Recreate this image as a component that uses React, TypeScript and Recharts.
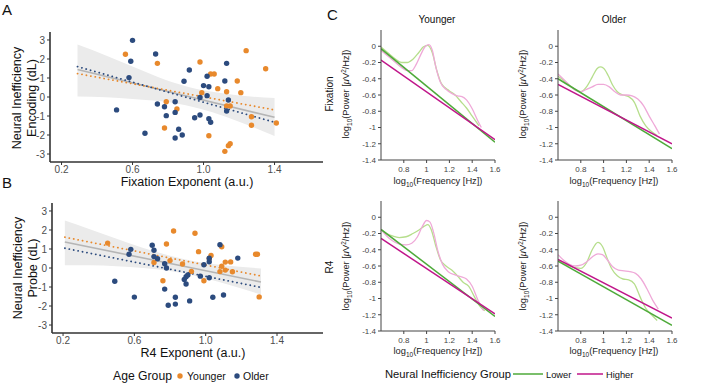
import React from 'react';
import { ComposedChart, LineChart, Line, Scatter, Area, XAxis, YAxis } from 'recharts';

const ORANGE = '#E8892C';
const BLUE = '#2C4B7E';
const GREEN = '#4EAA3A';
const LIGHT_GREEN = '#B6DE8C';
const MAGENTA = '#C0168A';
const PINK = '#EFA9D8';
const FONT = 'Liberation Sans, Arial, Helvetica, sans-serif';

// ---- panel A: fixation exponent vs encoding dL ----
const youngerA: [number, number][] = [
  [0.56, 2.25], [0.74, 1.77], [0.79, -0.25], [0.85, -0.63], [0.78, -1.63], [0.98, 1.84],
  [0.99, 0.23], [1.04, 1.21], [1.06, 1.21], [1.08, 0.44], [1.03, -2.04], [1.13, 0.28],
  [1.13, -0.47], [1.15, -0.47], [1.19, 0.84], [1.21, 0.23], [1.24, 2.44], [1.27, -1.04],
  [1.27, -1.49], [1.12, -2.86], [1.14, -2.56], [1.15, -2.46], [1.35, 1.49], [1.41, -1.37],
];
const olderA: [number, number][] = [
  [0.6, 2.98], [0.59, 1.88], [0.58, 1.02], [0.51, -0.68], [0.73, 2.26], [0.67, -1.91],
  [0.74, -0.37], [0.78, -0.51], [0.79, -0.98], [0.84, -0.25], [0.84, -0.81], [0.86, -1.7],
  [0.88, -2.0], [0.84, -2.16], [0.89, 0.83], [0.92, 1.42], [0.95, -1.09], [0.98, -0.95],
  [0.98, -0.03], [1.0, 0.6], [1.02, 0.07], [1.02, 1.09], [1.03, 0.54], [1.03, -1.14],
  [1.04, -1.33], [1.12, 0.84], [1.13, 1.77], [1.14, -0.16], [1.13, -0.74],
];
const fitA: [number, number][] = [[0.29, 1.45], [1.4, -1.07]];
const fitYoungerA: [number, number][] = [[0.29, 1.23], [1.4, -0.68]];
const fitOlderA: [number, number][] = [[0.29, 1.6], [1.4, -1.33]];
const bandXA = [0.29, 0.45, 0.6, 0.75, 0.9, 1.05, 1.2, 1.4];
const bandLowA = [0.02, -0.01, -0.1, -0.21, -0.43, -0.8, -1.3, -2.05];
const bandHighA = [2.76, 2.19, 1.6, 1.03, 0.57, 0.27, 0.08, -0.05];

// ---- panel B: R4 exponent vs probe dL ----
const youngerB: [number, number][] = [
  [0.45, 1.31], [0.71, 0.29], [0.78, 1.26], [0.82, 1.95], [0.8, 0.39], [0.76, -0.67],
  [0.87, 0.21], [0.92, -0.18], [0.94, 1.83], [0.96, 0.86], [0.99, -0.67], [1.02, 0.5],
  [1.03, 0.66], [1.08, -0.19], [1.09, 0.09], [1.09, 1.12], [1.11, 0.31], [1.11, -0.11],
  [1.14, 0.32], [1.15, -0.2], [1.28, 0.72], [1.29, 0.72], [1.3, -1.52],
];
const olderB: [number, number][] = [
  [0.49, -0.7], [0.6, -1.53], [0.57, 0.72], [0.58, 0.98], [0.7, 1.2], [0.71, 0.93],
  [0.71, 0.6], [0.73, 0.49], [0.77, 0.22], [0.78, 0.0], [0.77, -1.11], [0.83, -1.54],
  [0.79, -1.96], [0.83, -1.9], [0.88, -0.6], [0.89, -0.46], [0.9, -0.37], [0.89, -0.84],
  [0.91, -1.73], [0.97, -0.43], [0.99, 0.17], [1.02, 0.33], [1.02, 0.51], [1.02, -0.51],
  [1.04, -1.54], [1.08, 1.22], [1.1, -1.42], [1.18, 0.52],
];
const fitB: [number, number][] = [[0.21, 1.37], [1.31, -0.74]];
const fitYoungerB: [number, number][] = [[0.21, 1.62], [1.31, -0.42]];
const fitOlderB: [number, number][] = [[0.21, 1.04], [1.31, -1.02]];
const bandXB = [0.21, 0.35, 0.5, 0.65, 0.8, 0.95, 1.1, 1.31];
const bandLowB = [0.14, 0.14, 0.09, 0.0, -0.16, -0.43, -0.8, -1.4];
const bandHighB = [2.5, 2.04, 1.54, 1.05, 0.64, 0.33, 0.14, -0.02];

// ---- panel C: power spectra (log10 freq, log10 power) ----
const specLowerFixYoung: [number, number][] = [
  [0.6, -0.01], [0.66, -0.08], [0.72, -0.15], [0.78, -0.2], [0.83, -0.2], [0.88, -0.16],
  [0.93, -0.08], [0.97, -0.01], [1.01, 0.01], [1.05, -0.08], [1.09, -0.3], [1.13, -0.46],
  [1.2, -0.55], [1.25, -0.6], [1.3, -0.68], [1.35, -0.76], [1.4, -0.86], [1.46, -0.98],
];
const specHigherFixYoung: [number, number][] = [
  [0.6, -0.05], [0.66, -0.12], [0.72, -0.19], [0.78, -0.26], [0.83, -0.3], [0.87, -0.3],
  [0.91, -0.22], [0.95, -0.1], [0.99, 0.0], [1.02, 0.02], [1.05, -0.05], [1.08, -0.25],
  [1.12, -0.44], [1.17, -0.53], [1.22, -0.58], [1.27, -0.61], [1.31, -0.62], [1.35, -0.66],
  [1.4, -0.77], [1.45, -0.92], [1.48, -1.0],
];
const fitLowerFixYoung: [number, number][] = [[0.6, -0.03], [1.6, -1.18]];
const fitHigherFixYoung: [number, number][] = [[0.6, -0.17], [1.6, -1.15]];

const specLowerFixOld: [number, number][] = [
  [0.6, -0.37], [0.65, -0.42], [0.7, -0.48], [0.75, -0.53], [0.8, -0.56], [0.85, -0.5],
  [0.9, -0.38], [0.94, -0.28], [0.97, -0.255], [1.0, -0.27], [1.04, -0.36], [1.08, -0.48],
  [1.12, -0.56], [1.17, -0.6], [1.22, -0.62], [1.27, -0.69], [1.32, -0.86], [1.37, -0.98],
  [1.42, -1.05], [1.47, -1.1],
];
const specHigherFixOld: [number, number][] = [
  [0.6, -0.34], [0.65, -0.41], [0.7, -0.48], [0.75, -0.54], [0.8, -0.56], [0.85, -0.53],
  [0.9, -0.5], [0.95, -0.47], [1.0, -0.47], [1.05, -0.5], [1.1, -0.56], [1.15, -0.6],
  [1.2, -0.6], [1.25, -0.61], [1.3, -0.65], [1.35, -0.73], [1.4, -0.86], [1.45, -0.98],
  [1.49, -1.08],
];
const fitLowerFixOld: [number, number][] = [[0.6, -0.4], [1.6, -1.26]];
const fitHigherFixOld: [number, number][] = [[0.6, -0.47], [1.6, -1.2]];

const specLowerR4Young: [number, number][] = [
  [0.6, -0.15], [0.65, -0.2], [0.7, -0.23], [0.76, -0.25], [0.82, -0.24], [0.88, -0.2],
  [0.94, -0.15], [0.98, -0.11], [1.01, -0.09], [1.04, -0.15], [1.08, -0.35], [1.12, -0.52],
  [1.17, -0.6], [1.22, -0.65], [1.27, -0.72], [1.32, -0.8], [1.37, -0.85], [1.42, -0.98],
  [1.47, -1.1], [1.51, -1.15],
];
const specHigherR4Young: [number, number][] = [
  [0.6, -0.15], [0.65, -0.23], [0.7, -0.29], [0.76, -0.33], [0.82, -0.34], [0.87, -0.32],
  [0.92, -0.24], [0.96, -0.12], [1.0, -0.04], [1.03, -0.06], [1.06, -0.18], [1.1, -0.42],
  [1.14, -0.58], [1.19, -0.67], [1.25, -0.71], [1.3, -0.73], [1.35, -0.76], [1.4, -0.85],
  [1.45, -1.02], [1.5, -1.15],
];
const fitLowerR4Young: [number, number][] = [[0.6, -0.15], [1.6, -1.22]];
const fitHigherR4Young: [number, number][] = [[0.6, -0.26], [1.6, -1.19]];

const specLowerR4Old: [number, number][] = [
  [0.6, -0.53], [0.65, -0.57], [0.7, -0.6], [0.75, -0.62], [0.8, -0.63], [0.85, -0.56],
  [0.9, -0.4], [0.95, -0.31], [0.99, -0.36], [1.03, -0.5], [1.07, -0.63], [1.12, -0.72],
  [1.17, -0.76], [1.22, -0.77], [1.27, -0.82], [1.32, -0.98], [1.37, -1.12], [1.42, -1.2],
  [1.47, -1.27],
];
const specHigherR4Old: [number, number][] = [
  [0.6, -0.46], [0.65, -0.53], [0.7, -0.58], [0.75, -0.6], [0.8, -0.59], [0.85, -0.55],
  [0.9, -0.49], [0.95, -0.45], [0.99, -0.46], [1.03, -0.52], [1.08, -0.61], [1.13, -0.65],
  [1.18, -0.66], [1.23, -0.67], [1.28, -0.69], [1.33, -0.76], [1.38, -0.88], [1.43, -1.02],
  [1.48, -1.13],
];
const fitLowerR4Old: [number, number][] = [[0.6, -0.54], [1.6, -1.33]];
const fitHigherR4Old: [number, number][] = [[0.6, -0.52], [1.6, -1.24]];

const scatterTicksX = [0.2, 0.6, 1.0, 1.4];
const scatterTicksY = [-3, -2, -1, 0, 1, 2, 3];
const specTicksX = [0.8, 1, 1.2, 1.4, 1.6];
const specTicksY = [-1.4, -1.2, -1, -0.8, -0.6, -0.4, -0.2, 0];

const pts = (arr: [number, number][]) => arr.map(([x, y]) => ({ x, y }));
const band = (xs: number[], lo: number[], hi: number[]) =>
  xs.map((x, i) => ({ x, band: [lo[i], hi[i]] }));

const dot = (color: string) => (props: any) => (
  <circle cx={props.cx} cy={props.cy} r={2.7} fill={color} />
);

type ScatterPanelProps = {
  top: number;
  height: number;
  marginTop: number;
  yAxisWidth: number;
  xDomain: [number, number];
  bandData: { x: number; band: number[] }[];
  fit: [number, number][];
  fitYounger: [number, number][];
  fitOlder: [number, number][];
  younger: [number, number][];
  older: [number, number][];
};

const ScatterPanel = (p: ScatterPanelProps) => (
  <div style={{ position: 'absolute', left: 0, top: p.top }}>
    <ComposedChart
      width={330}
      height={p.height}
      data={p.bandData}
      margin={{ top: p.marginTop, right: 7, bottom: 0, left: 0 }}
    >
      <XAxis
        type="number"
        dataKey="x"
        domain={p.xDomain}
        allowDataOverflow
        ticks={scatterTicksX}
        interval={0}
        tickFormatter={(v: number) => v.toFixed(1)}
        height={p.height - p.marginTop - 130}
        tickSize={3}
        tickMargin={1}
        axisLine={{ stroke: '#333', strokeWidth: 1.6 }}
        tickLine={{ stroke: '#333' }}
        tick={{ fill: '#4d4d4d', fontSize: 10, fontFamily: FONT }}
      />
      <YAxis
        type="number"
        domain={[-3.42, 3.42]}
        allowDataOverflow
        ticks={scatterTicksY}
        interval={0}
        width={p.yAxisWidth}
        tickSize={3}
        tickMargin={2}
        axisLine={{ stroke: '#333', strokeWidth: 1.6 }}
        tickLine={{ stroke: '#333' }}
        tick={{ fill: '#4d4d4d', fontSize: 10, fontFamily: FONT }}
      />
      <Area
        dataKey="band"
        type="monotone"
        fill="#ebebeb"
        fillOpacity={1}
        stroke="none"
        isAnimationActive={false}
      />
      <Line data={pts(p.fit)} dataKey="y" stroke="#b5b5b5" strokeWidth={1.6} dot={false} isAnimationActive={false} />
      <Scatter data={pts(p.younger)} dataKey="y" shape={dot(ORANGE)} isAnimationActive={false} />
      <Scatter data={pts(p.older)} dataKey="y" shape={dot(BLUE)} isAnimationActive={false} />
      <Line
        data={pts(p.fitYounger)}
        dataKey="y"
        stroke={ORANGE}
        strokeWidth={1.8}
        strokeDasharray="0.1 4.4"
        strokeLinecap="round"
        dot={false}
        isAnimationActive={false}
      />
      <Line
        data={pts(p.fitOlder)}
        dataKey="y"
        stroke={BLUE}
        strokeWidth={1.8}
        strokeDasharray="0.1 4.4"
        strokeLinecap="round"
        dot={false}
        isAnimationActive={false}
      />
    </ComposedChart>
  </div>
);

type SpecPanelProps = {
  left: number;
  top: number;
  lower: [number, number][];
  higher: [number, number][];
  lowerFit: [number, number][];
  higherFit: [number, number][];
};

const SpecPanel = (p: SpecPanelProps) => (
  <div style={{ position: 'absolute', left: p.left, top: p.top }}>
    <LineChart width={170} height={180} margin={{ top: 30, right: 15, bottom: 0, left: 0 }}>
      <XAxis
        type="number"
        dataKey="x"
        domain={[0.6, 1.6]}
        allowDataOverflow
        ticks={specTicksX}
        interval={0}
        height={20}
        tickSize={3}
        tickMargin={3}
        axisLine={{ stroke: '#444' }}
        tickLine={{ stroke: '#444' }}
        tick={{ fill: '#444', fontSize: 8, fontFamily: FONT }}
      />
      <YAxis
        type="number"
        domain={[-1.4, 0.2]}
        allowDataOverflow
        ticks={specTicksY}
        interval={0}
        width={41}
        tickSize={3}
        tickMargin={2}
        axisLine={{ stroke: '#444' }}
        tickLine={{ stroke: '#444' }}
        tick={{ fill: '#444', fontSize: 8, fontFamily: FONT }}
      />
      <Line data={pts(p.lower)} dataKey="y" type="monotone" stroke={LIGHT_GREEN} strokeWidth={1.3} dot={false} isAnimationActive={false} />
      <Line data={pts(p.higher)} dataKey="y" type="monotone" stroke={PINK} strokeWidth={1.3} dot={false} isAnimationActive={false} />
      <Line data={pts(p.lowerFit)} dataKey="y" stroke={GREEN} strokeWidth={1.5} dot={false} isAnimationActive={false} />
      <Line data={pts(p.higherFit)} dataKey="y" stroke={MAGENTA} strokeWidth={1.5} dot={false} isAnimationActive={false} />
    </LineChart>
  </div>
);

const PowerLabel = ({ x, y }: { x: number; y: number }) => (
  <text transform={`translate(${x},${y}) rotate(-90)`} textAnchor="middle" fontSize={9.3} fill="#222">
    log<tspan dy={2.5} fontSize={6.5}>10</tspan>
    <tspan dy={-2.5}>(Power [</tspan>
    <tspan fontStyle="italic">μ</tspan>V<tspan dy={-3.5} fontSize={6.5}>2</tspan>
    <tspan dy={3.5}>/Hz])</tspan>
  </text>
);

const FreqLabel = ({ x, y }: { x: number; y: number }) => (
  <text x={x} y={y} textAnchor="middle" fontSize={9.3} fill="#222">
    log<tspan dy={2.5} fontSize={6.5}>10</tspan>
    <tspan dy={-2.5}>(Frequency [Hz])</tspan>
  </text>
);

export default function App() {
  return (
    <div
      style={{
        position: 'absolute',
        left: 0,
        top: 0,
        width: 709,
        height: 386,
        background: '#fff',
        overflow: 'hidden',
        fontFamily: FONT,
      }}
    >
      <ScatterPanel
        top={0}
        height={180}
        marginTop={32}
        yAxisWidth={50}
        xDomain={[0.135, 1.673]}
        bandData={band(bandXA, bandLowA, bandHighA)}
        fit={fitA}
        fitYounger={fitYoungerA}
        fitOlder={fitOlderA}
        younger={youngerA}
        older={olderA}
      />
      <ScatterPanel
        top={185}
        height={165}
        marginTop={18}
        yAxisWidth={52}
        xDomain={[0.138, 1.658]}
        bandData={band(bandXB, bandLowB, bandHighB)}
        fit={fitB}
        fitYounger={fitYoungerB}
        fitOlder={fitOlderB}
        younger={youngerB}
        older={olderB}
      />
      <SpecPanel left={340} top={0} lower={specLowerFixYoung} higher={specHigherFixYoung} lowerFit={fitLowerFixYoung} higherFit={fitHigherFixYoung} />
      <SpecPanel left={517} top={0} lower={specLowerFixOld} higher={specHigherFixOld} lowerFit={fitLowerFixOld} higherFit={fitHigherFixOld} />
      <SpecPanel left={340} top={171} lower={specLowerR4Young} higher={specHigherR4Young} lowerFit={fitLowerR4Young} higherFit={fitHigherR4Young} />
      <SpecPanel left={517} top={171} lower={specLowerR4Old} higher={specHigherR4Old} lowerFit={fitLowerR4Old} higherFit={fitHigherR4Old} />

      <svg
        width={709}
        height={386}
        style={{ position: 'absolute', left: 0, top: 0, pointerEvents: 'none' }}
        fontFamily={FONT}
      >
        {/* panel letters */}
        <text x={2} y={15} fontSize={15} fill="#111">A</text>
        <text x={2} y={188} fontSize={15} fill="#111">B</text>
        <text x={327} y={20} fontSize={15} fill="#111">C</text>

        {/* A/B axis titles */}
        <text transform="translate(21,98) rotate(-90)" textAnchor="middle" fontSize={12.5} fill="#111">Neural Inefficiency</text>
        <text transform="translate(36,98) rotate(-90)" textAnchor="middle" fontSize={12.5} fill="#111">Encoding (dL)</text>
        <text x={187} y={186} textAnchor="middle" fontSize={12.5} fill="#111">Fixation Exponent (a.u.)</text>
        <text transform="translate(22,268) rotate(-90)" textAnchor="middle" fontSize={12.5} fill="#111">Neural Inefficiency</text>
        <text transform="translate(37,268) rotate(-90)" textAnchor="middle" fontSize={12.5} fill="#111">Probe (dL)</text>
        <text x={193} y={357} textAnchor="middle" fontSize={12.5} fill="#111">R4 Exponent (a.u.)</text>

        {/* Age group legend */}
        <text x={113} y={380} fontSize={12.2} fill="#111">Age Group</text>
        <circle cx={180} cy={376} r={2.7} fill={ORANGE} />
        <text x={187} y={380} fontSize={10.5} fill="#111">Younger</text>
        <circle cx={237} cy={376} r={2.7} fill={BLUE} />
        <text x={243} y={380} fontSize={10.5} fill="#111">Older</text>

        {/* C titles */}
        <text x={437} y={23} textAnchor="middle" fontSize={10} fill="#111">Younger</text>
        <text x={614} y={23} textAnchor="middle" fontSize={10} fill="#111">Older</text>
        <text transform="translate(333,94) rotate(-90)" textAnchor="middle" fontSize={10} fill="#111">Fixation</text>
        <text transform="translate(333,267) rotate(-90)" textAnchor="middle" fontSize={10} fill="#111">R4</text>

        <PowerLabel x={349} y={94} />
        <PowerLabel x={526} y={94} />
        <PowerLabel x={349} y={266} />
        <PowerLabel x={526} y={266} />
        <FreqLabel x={438} y={184} />
        <FreqLabel x={614} y={184} />
        <FreqLabel x={438} y={354} />
        <FreqLabel x={614} y={354} />

        {/* Neural inefficiency legend */}
        <text x={385} y={378} fontSize={11.2} fill="#111">Neural Inefficiency Group</text>
        <line x1={513} y1={374} x2={543} y2={374} stroke={GREEN} strokeWidth={1.5} />
        <text x={546} y={378} fontSize={9.3} fill="#111">Lower</text>
        <line x1={577} y1={374} x2={603} y2={374} stroke={MAGENTA} strokeWidth={1.5} />
        <text x={606} y={378} fontSize={9.3} fill="#111">Higher</text>
      </svg>
    </div>
  );
}
